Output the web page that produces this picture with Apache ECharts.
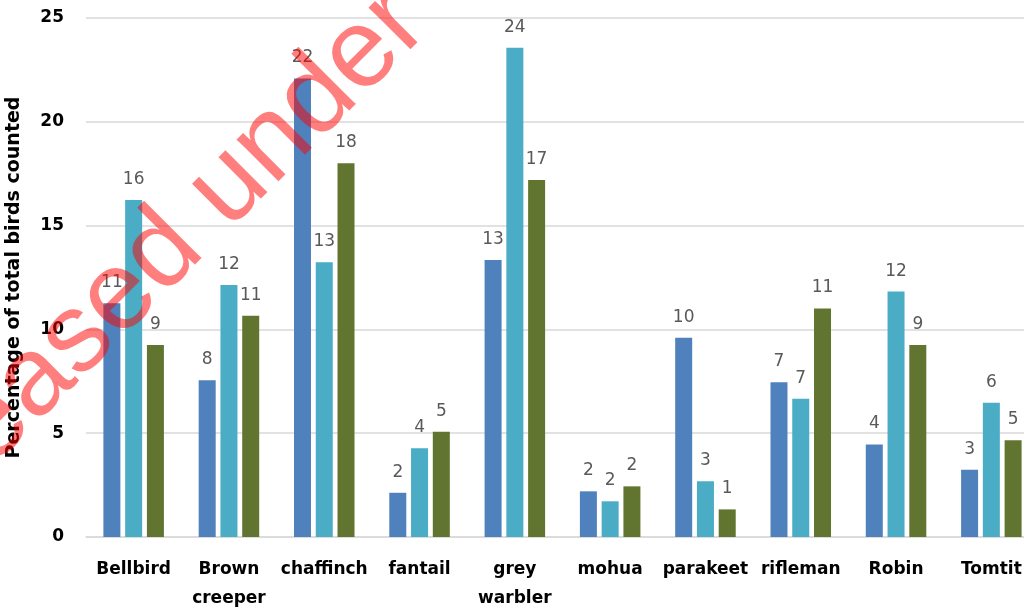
<!DOCTYPE html>
<html>
<head>
<meta charset="utf-8">
<script src="https://cdn.jsdelivr.net/npm/echarts@6/dist/echarts.min.js"></script>
<style>
  html, body { margin: 0; padding: 0; background: #fff; }
  #chart { width: 1024px; height: 607px; }
</style>
</head>
<body>
<div id="chart"></div>
<script>
// Bird species surveyed
const categories = ['Bellbird', 'Brown\ncreeper', 'chaffinch', 'fantail', 'grey\nwarbler',
  'mohua', 'parakeet', 'rifleman', 'Robin', 'Tomtit'];

// Percentage of total birds counted, one array per survey series
const seriesA = [11.26, 7.55, 22.09, 2.13, 13.34, 2.2, 9.6, 7.45, 4.46, 3.24];
const seriesB = [16.23, 12.14, 13.23, 4.27, 23.57, 1.72, 2.68, 6.66, 11.82, 6.47];
const seriesC = [9.25, 10.66, 18.0, 5.07, 17.2, 2.44, 1.33, 11.01, 9.25, 4.66];

const yTicks = [0, 5, 10, 15, 20, 25];

const colors = ['#4F81BD', '#4BACC6', '#617530'];
const font = '"DejaVu Sans", Verdana, sans-serif';

function barSeries(values, color) {
  return {
    type: 'bar',
    data: values,
    barWidth: 17,
    barGap: '28%',
    itemStyle: { color: color },
    label: {
      show: true,
      position: 'top',
      distance: 12,
      color: '#595959',
      fontFamily: font,
      fontSize: 17,
      formatter: p => Math.round(p.value)
    }
  };
}

const chart = echarts.init(document.getElementById('chart'), null, { renderer: 'canvas' });
chart.setOption({
  animation: false,
  grid: { left: 86, top: 18, bottom: 70, width: 953, outerBoundsMode: 'none', containLabel: false },
  xAxis: {
    type: 'category',
    data: categories,
    axisLine: { lineStyle: { color: '#D9D9D9', width: 1.5 } },
    axisTick: { show: false },
    axisLabel: {
      color: '#000',
      fontFamily: font,
      fontWeight: 'bold',
      fontSize: 17,
      lineHeight: 29,
      margin: 18,
      interval: 0
    }
  },
  yAxis: {
    type: 'value',
    min: yTicks[0],
    max: yTicks[yTicks.length - 1],
    interval: yTicks[1] - yTicks[0],
    name: 'Percentage of total birds counted',
    nameLocation: 'middle',
    nameGap: 62,
    nameTextStyle: { color: '#000', fontFamily: font, fontWeight: 'bold', fontSize: 19 },
    axisLine: { show: false },
    axisTick: { show: false },
    splitLine: { lineStyle: { color: '#D9D9D9', width: 1.5 } },
    axisLabel: {
      color: '#000',
      fontFamily: font,
      fontWeight: 'bold',
      fontSize: 17,
      margin: 22
    }
  },
  series: [
    barSeries(seriesA, colors[0]),
    barSeries(seriesB, colors[1]),
    barSeries(seriesC, colors[2])
  ],
  graphic: [{
    type: 'text',
    x: 130,
    y: 286,
    rotation: 45 * Math.PI / 180,
    z: 100,
    style: {
      text: 'Released under',
      font: '112px "Liberation Sans", Arial, sans-serif',
      fill: 'rgba(255, 0, 0, 0.5)',
      align: 'center',
      verticalAlign: 'middle'
    }
  }]
});
</script>
</body>
</html>
